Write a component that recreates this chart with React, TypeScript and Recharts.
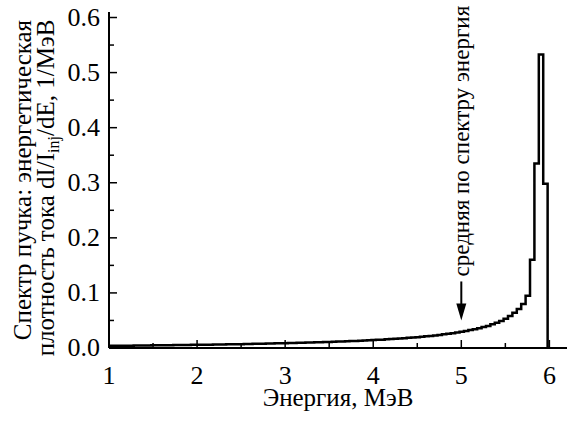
import { LineChart, Line, XAxis, YAxis, ReferenceDot } from 'recharts';

// spectrum bins: 0.05 MeV wide, first bin starts just left of the axis
const binStart = 0.98;
const binWidth = 0.05;
const spectrum = [
  0.004, 0.004, 0.004, 0.004, 0.0042, 0.0042, 0.0044, 0.0045, 0.0046, 0.0047,
  0.0048, 0.0049, 0.005, 0.0051, 0.0052, 0.0053, 0.0054, 0.0055, 0.0056, 0.0057,
  0.0058, 0.0059, 0.006, 0.0061, 0.0062, 0.0064, 0.0065, 0.0066, 0.0068, 0.0069,
  0.007, 0.0072, 0.0073, 0.0075, 0.0076, 0.0078, 0.008, 0.0082, 0.0084, 0.0086,
  0.0088, 0.009, 0.0092, 0.0094, 0.0096, 0.0098, 0.01, 0.0103, 0.0105, 0.0108,
  0.011, 0.0113, 0.0116, 0.0119, 0.0122, 0.0125, 0.0128, 0.0132, 0.0136, 0.014,
  0.0144, 0.0148, 0.0152, 0.0157, 0.0162, 0.0167, 0.0172, 0.0178, 0.0184, 0.019,
  0.0197, 0.0204, 0.0212, 0.022, 0.0229, 0.0238, 0.0248, 0.0258, 0.027, 0.028,
  0.0295, 0.031, 0.0325, 0.034, 0.036, 0.038, 0.04, 0.043, 0.046, 0.049,
  0.053, 0.058, 0.064, 0.071, 0.08, 0.095, 0.16, 0.335, 0.533, 0.298,
];
const spectrumEnd = [5.98, 6.0];

const xMajor = [1, 2, 3, 4, 5, 6];
const xMinor = [1.5, 2.5, 3.5, 4.5, 5.5];
const yMajor = [0, 0.1, 0.2, 0.3, 0.4, 0.5, 0.6];
const yMinor = [0.05, 0.15, 0.25, 0.35, 0.45, 0.55];

const meanEnergy = 5.0;
const arrowTipLevel = 0.05;

const xTitle = 'Энергия, МэВ';
const yTitle1 = 'Спектр пучка: энергетическая';
const yTitle2a = 'плотность тока dI/I';
const yTitle2sub = 'inj';
const yTitle2b = '/dE, 1/МэВ';
const meanLabel = 'средняя по спектру энергия';

const font = '"Liberation Serif", "DejaVu Serif", serif';
const serif = (size: number) => ({ fontFamily: font, fontSize: size, fill: '#000' });

const data = [
  ...spectrum.map((y, i) => ({ x: Math.max(1, +(binStart + i * binWidth).toFixed(3)), y })),
  ...spectrumEnd.map((x) => ({ x, y: 0 })),
];

const XTick = ({ x, y, payload }: any) => {
  const major = xMajor.includes(payload.value);
  return (
    <g>
      <line x1={x} y1={y} x2={x} y2={y - (major ? 8 : 5)} stroke="#000" strokeWidth={1.5} />
      {major && (
        <text x={x} y={y + 36} textAnchor="middle" style={serif(26)}>
          {payload.value}
        </text>
      )}
    </g>
  );
};

const YTick = ({ x, y, payload }: any) => {
  const major = yMajor.includes(payload.value);
  return (
    <g>
      <line x1={x} y1={y} x2={x + (major ? 8 : 5)} y2={y} stroke="#000" strokeWidth={1.5} />
      {major && (
        <text x={x - 9} y={y + 8} textAnchor="end" style={serif(26)}>
          {payload.value.toFixed(1)}
        </text>
      )}
    </g>
  );
};

const YTitle = ({ viewBox }: any) => {
  const cy = viewBox.y + viewBox.height / 2;
  const x1 = viewBox.x + viewBox.width - 78;
  const x2 = viewBox.x + viewBox.width - 55;
  return (
    <g>
      <text x={x1} y={cy} textAnchor="middle" style={serif(25)} transform={`rotate(-90, ${x1}, ${cy})`}>
        {yTitle1}
      </text>
      <text x={x2} y={cy + 8} textAnchor="middle" style={serif(25)} transform={`rotate(-90, ${x2}, ${cy + 8})`}>
        {yTitle2a}
        <tspan style={{ fontSize: 16 }} dy={5}>{yTitle2sub}</tspan>
        <tspan dy={-5}>{yTitle2b}</tspan>
      </text>
    </g>
  );
};

const XTitle = ({ viewBox }: any) => {
  const cx = viewBox.x + viewBox.width / 2;
  return (
    <text x={cx} y={406} textAnchor="middle" style={serif(25)}>
      {xTitle}
    </text>
  );
};

const MeanArrow = ({ cx, cy }: any) => {
  const tx = cx + 8;
  const ty = cy - 44;
  return (
    <g>
      <line x1={cx} y1={cy - 39} x2={cx} y2={cy - 12} stroke="#000" strokeWidth={2} />
      <polygon points={`${cx - 5},${cy - 17} ${cx + 5},${cy - 17} ${cx},${cy}`} fill="#000" />
      <text x={tx} y={ty} transform={`rotate(-90, ${tx}, ${ty})`} style={serif(23)}>
        {meanLabel}
      </text>
    </g>
  );
};

const App = () => (
  <div style={{ position: 'absolute', left: 0, top: 0, background: '#fff' }}>
    <LineChart width={567} height={438} data={data} margin={{ top: 12, right: 0, left: 108, bottom: 0 }}>
      <XAxis
        type="number"
        dataKey="x"
        domain={[1, 6.2]}
        ticks={[...xMajor, ...xMinor].sort((a, b) => a - b)}
        interval={0}
        height={90}
        tickSize={0}
        tickMargin={0}
        tickLine={false}
        tick={<XTick />}
        axisLine={{ stroke: '#000', strokeWidth: 2 }}
        allowDataOverflow
        label={{ content: <XTitle /> }}
      />
      <YAxis
        type="number"
        domain={[0, 0.61]}
        ticks={[...yMajor, ...yMinor].sort((a, b) => a - b)}
        interval={0}
        width={1}
        tickSize={0}
        tickMargin={0}
        tickLine={false}
        tick={<YTick />}
        axisLine={{ stroke: '#000', strokeWidth: 2 }}
        allowDataOverflow
        label={{ content: <YTitle /> }}
      />
      <Line
        type="stepAfter"
        dataKey="y"
        stroke="#000"
        strokeWidth={2.5}
        dot={false}
        isAnimationActive={false}
      />
      <ReferenceDot x={meanEnergy} y={arrowTipLevel} r={0} shape={<MeanArrow />} />
    </LineChart>
  </div>
);

export default App;
